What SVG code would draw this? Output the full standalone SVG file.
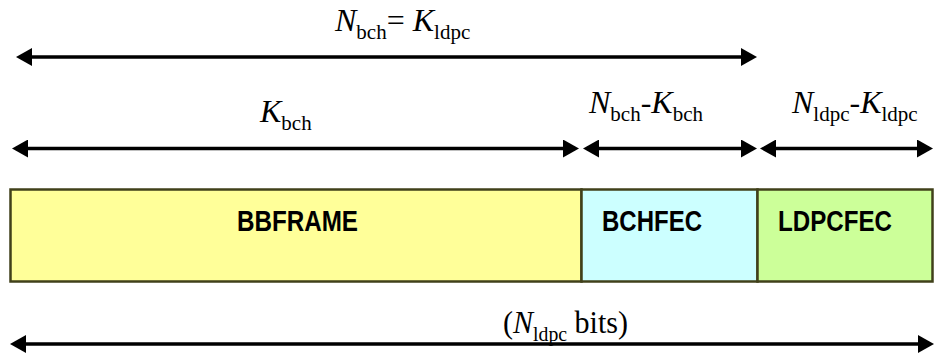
<svg xmlns="http://www.w3.org/2000/svg" width="934" height="356" viewBox="0 0 934 356">
  <style>
    .lbl { font-family: "Liberation Serif", "Times New Roman", serif; font-size: 32px; fill: #000; }
    .it { font-style: italic; }
    .sub { font-size: 21px; font-style: normal; }
    .box { stroke: #40401a; stroke-width: 2.5; }
    .bt { font-family: "Liberation Sans Narrow", "Liberation Sans", Arial, sans-serif; font-weight: bold; font-size: 29px; fill: #000; }
    .arr { stroke: #000; stroke-width: 3.5; fill: none; marker-start: url(#ah); marker-end: url(#ah); }
  </style>
  <defs>
    <marker id="ah" viewBox="0 0 16 18" refX="12" refY="9" markerWidth="16" markerHeight="18" markerUnits="userSpaceOnUse" orient="auto-start-reverse">
      <path d="M0,0 L16,9 L0,18 z" fill="#000"/>
    </marker>
  </defs>
  <rect width="934" height="356" fill="#fff"/>

  <g id="frame">
    <g id="bbframe">
      <rect class="box" x="10.5" y="189.5" width="571" height="92" fill="#FFFF99"/>
      <text class="bt" x="237" y="231" textLength="121" lengthAdjust="spacingAndGlyphs">BBFRAME</text>
    </g>
    <g id="bchfec">
      <rect class="box" x="581.5" y="189.5" width="176" height="92" fill="#CCFFFF"/>
      <text class="bt" x="602" y="231" textLength="100" lengthAdjust="spacingAndGlyphs">BCHFEC</text>
    </g>
    <g id="ldpcfec">
      <rect class="box" x="757.5" y="189.5" width="175" height="92" fill="#CCFF99"/>
      <text class="bt" x="778" y="231" textLength="114" lengthAdjust="spacingAndGlyphs">LDPCFEC</text>
    </g>
  </g>

  <g id="connectors">
    <line class="arr" x1="20" y1="57" x2="753" y2="57"/>
    <line class="arr" x1="16" y1="148.5" x2="575" y2="148.5"/>
    <line class="arr" x1="587" y1="148.5" x2="753" y2="148.5"/>
    <line class="arr" x1="764" y1="148.5" x2="929" y2="148.5"/>
    <line class="arr" x1="14" y1="344" x2="930" y2="344"/>
  </g>

  <g id="labels">
    <text class="lbl" x="335" y="31"><tspan class="it">N</tspan><tspan class="sub" dy="8">bch</tspan><tspan dy="-8">= </tspan><tspan class="it">K</tspan><tspan class="sub" dy="8">ldpc</tspan></text>
    <text class="lbl" x="260" y="122"><tspan class="it">K</tspan><tspan class="sub" dy="8">bch</tspan></text>
    <text class="lbl" x="589" y="113"><tspan class="it">N</tspan><tspan class="sub" dy="8">bch</tspan><tspan dy="-8">-</tspan><tspan class="it">K</tspan><tspan class="sub" dy="8">bch</tspan></text>
    <text class="lbl" x="792" y="113"><tspan class="it">N</tspan><tspan class="sub" dy="8">ldpc</tspan><tspan dy="-8">-</tspan><tspan class="it">K</tspan><tspan class="sub" dy="8">ldpc</tspan></text>
    <text class="lbl" x="503" y="333" textLength="125" lengthAdjust="spacingAndGlyphs">(<tspan class="it">N</tspan><tspan class="sub" dy="8">ldpc</tspan><tspan dy="-8"> bits)</tspan></text>
  </g>
</svg>
